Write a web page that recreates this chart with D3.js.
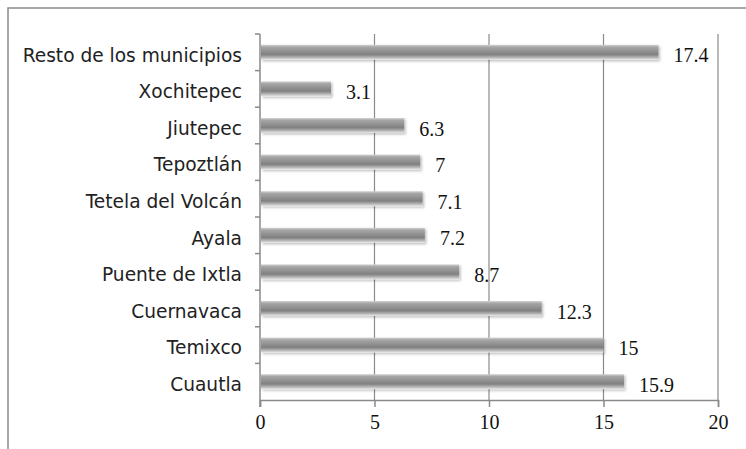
<!DOCTYPE html>
<html>
<head>
<meta charset="utf-8">
<script src="https://cdn.jsdelivr.net/npm/d3@7"></script>
<style>
  body { margin: 0; background: #fff; }
  svg { display: block; }
</style>
</head>
<body>
<div id="chart"></div>
<script>
// municipalities, top to bottom
const categories = ["Resto de los municipios", "Xochitepec", "Jiutepec", "Tepoztlán",
    "Tetela del Volcán", "Ayala", "Puente de Ixtla", "Cuernavaca", "Temixco", "Cuautla"];
const values = [17.4, 3.1, 6.3, 7, 7.1, 7.2, 8.7, 12.3, 15, 15.9];
const xTicks = [0, 5, 10, 15, 20];

const width = 746, height = 449;
const margin = {top: 34, left: 260, right: 28, bottom: 49};

const svg = d3.select("#chart").append("svg")
    .attr("width", width)
    .attr("height", height);

// outer frame (cut off on right and bottom)
svg.append("rect")
    .attr("x", 8).attr("y", 8)
    .attr("width", 800).attr("height", 500)
    .attr("fill", "none")
    .attr("stroke", "#8c8c8c")
    .attr("stroke-width", 1.5);

const defs = svg.append("defs");
const grad = defs.append("linearGradient")
    .attr("id", "barGrad")
    .attr("x1", 0).attr("y1", 0).attr("x2", 0).attr("y2", 1);
[[0, "#d4d4d4"], [0.15, "#a6a6a6"], [0.65, "#808080"], [0.85, "#b6b6b6"], [1, "#e8e8e8"]]
    .forEach(s => grad.append("stop").attr("offset", s[0]).attr("stop-color", s[1]));

const shadow = defs.append("filter").attr("id", "shadow")
    .attr("x", "-5%").attr("y", "-30%").attr("width", "110%").attr("height", "180%");
shadow.append("feDropShadow")
    .attr("dx", 1.5).attr("dy", 1.5).attr("stdDeviation", 1.2)
    .attr("flood-color", "#000").attr("flood-opacity", 0.25);

const x = d3.scaleLinear()
    .domain([0, 20])
    .range([margin.left, width - margin.right]);

const y = d3.scaleBand()
    .domain(categories)
    .range([margin.top, height - margin.bottom])
    .paddingInner(0.59)
    .paddingOuter(0.295);

const yBand = d3.scaleBand()
    .domain(categories)
    .range([margin.top, height - margin.bottom]);

const bottom = height - margin.bottom;

// vertical gridlines
svg.append("g")
    .selectAll("line")
    .data(xTicks.slice(1))
    .enter()
    .append("line")
    .attr("x1", d => x(d)).attr("x2", d => x(d))
    .attr("y1", margin.top).attr("y2", bottom)
    .attr("stroke", "#8a8a8a")
    .attr("stroke-width", 1.2);

// bars
svg.append("g")
    .selectAll("rect")
    .data(values)
    .enter()
    .append("rect")
    .attr("x", x(0) + 1)
    .attr("y", (d, i) => y(categories[i]))
    .attr("width", d => x(d) - x(0) - 1)
    .attr("height", y.bandwidth())
    .attr("fill", "url(#barGrad)")
    .attr("filter", "url(#shadow)");

// value labels
svg.append("g")
    .selectAll("text")
    .data(values)
    .enter()
    .append("text")
    .attr("x", d => x(d) + 15)
    .attr("y", (d, i) => yBand(categories[i]) + yBand.bandwidth() / 2)
    .attr("dy", "0.5em")
    .attr("font-family", "'Liberation Serif', serif")
    .attr("font-size", 20)
    .attr("fill", "#111")
    .text(d => d);

// x axis
const xAxis = d3.axisBottom(x)
    .tickValues(xTicks)
    .tickSize(7)
    .tickPadding(8)
    .tickFormat(d3.format("d"));
const gx = svg.append("g")
    .attr("transform", `translate(0,${bottom})`)
    .call(xAxis);
gx.select(".domain").attr("stroke", "#8a8a8a").attr("stroke-width", 1.5);
gx.selectAll(".tick line").attr("stroke", "#8a8a8a").attr("stroke-width", 1.5);
gx.selectAll(".tick text")
    .attr("font-family", "'Liberation Serif', serif")
    .attr("font-size", 20)
    .attr("fill", "#111");

// y axis
const yAxis = d3.axisLeft(yBand).tickSize(0).tickPadding(18);
const gy = svg.append("g")
    .attr("transform", `translate(${margin.left},0)`)
    .call(yAxis);
gy.select(".domain").attr("stroke", "#8a8a8a").attr("stroke-width", 1.5)
    .attr("d", `M0,${margin.top}V${bottom + 7}`);
gy.selectAll(".tick text")
    .attr("dy", "0.5em")
    .attr("font-family", "'DejaVu Sans', Verdana, sans-serif")
    .attr("font-size", 18.6)
    .attr("fill", "#222");

// category boundary ticks on the left axis
gy.append("g")
    .selectAll("line")
    .data(categories)
    .enter()
    .append("line")
    .attr("x1", -5).attr("x2", 0)
    .attr("y1", d => yBand(d)).attr("y2", d => yBand(d))
    .attr("stroke", "#8a8a8a")
    .attr("stroke-width", 1.5);
</script>
</body>
</html>
